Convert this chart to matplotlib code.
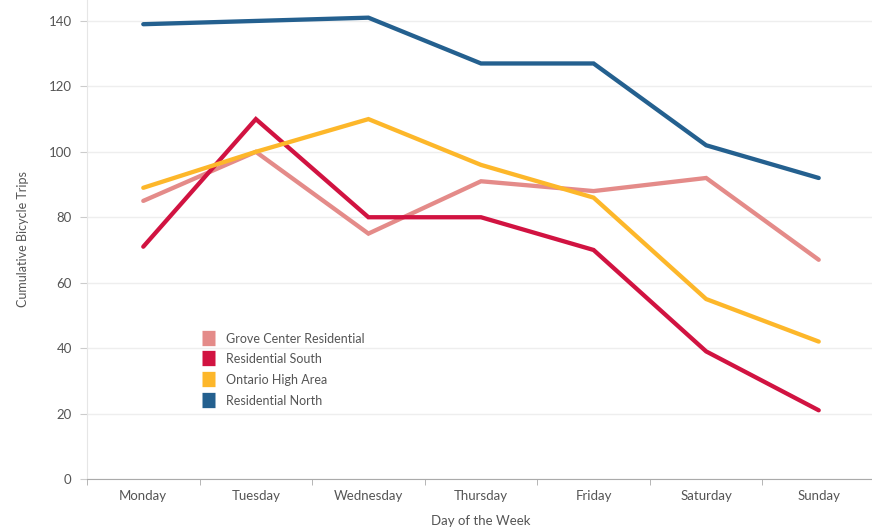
import numpy as np
import matplotlib.pyplot as plt

# days and cumulative bicycle trips per area
dias = ['Monday', 'Tuesday', 'Wednesday', 'Thursday', 'Friday', 'Saturday', 'Sunday']
grove = [85, 100, 75, 91, 88, 92, 67]
res_sul = [71, 110, 80, 80, 70, 39, 21]
ontario = [89, 100, 110, 96, 86, 55, 42]
res_norte = [139, 140, 141, 127, 127, 102, 92]

series = [
    ('Grove Center Residential', grove, '#e48b89'),
    ('Residential South', res_sul, '#d11341'),
    ('Ontario High Area', ontario, '#fdb72a'),
    ('Residential North', res_norte, '#24608f'),
]

plt.rcParams['font.family'] = ['Lato', 'DejaVu Sans']
cinza = '#555555'

fig = plt.figure(figsize=(8.72, 5.29), dpi=100)
ax = fig.add_axes([87/872, 50/529, 788/872, 479/529])

x = np.arange(len(dias))
for nome, vals, cor in series:
    ax.plot(x, vals, color=cor, lw=3.1, label=nome, solid_capstyle='round', solid_joinstyle='miter')

ax.set_xlim(-0.5, len(dias) - 0.5)
ax.set_ylim(0, 146.4)
ax.set_yticks(range(0, 141, 20))
ax.set_xticks(x)
ax.set_xticklabels(dias)
ax.set_xticks(np.arange(-0.5, len(dias)), minor=True)
ax.tick_params(axis='x', which='major', length=0, pad=8, labelsize=9.5, labelcolor=cinza)
ax.tick_params(axis='x', which='minor', length=4, color='#aaaaaa')
ax.tick_params(axis='y', length=5, color='#cccccc', labelsize=9.5, labelcolor=cinza, pad=6)

ax.grid(axis='y', color='#eeeeee', lw=1)
ax.set_axisbelow(True)
for lado in ['top', 'right']:
    ax.spines[lado].set_visible(False)
ax.spines['left'].set_color('#e6e6e6')
ax.spines['bottom'].set_color('#aaaaaa')

ax.set_xlabel('Day of the Week', fontsize=9.5, color=cinza, labelpad=9)
ax.set_ylabel('Cumulative Bicycle Trips', fontsize=9, color=cinza, labelpad=14)

leg = ax.legend(loc='upper left', bbox_to_anchor=(0.132, 0.329), frameon=False,
                handlelength=1.0, handleheight=1.0, handletextpad=0.9,
                labelspacing=0.7, fontsize=9)
for h in leg.legend_handles:
    h.set_linewidth(11)
    h.set_solid_capstyle('butt')
for t in leg.get_texts():
    t.set_color(cinza)

plt.savefig('out.png', dpi=100)
